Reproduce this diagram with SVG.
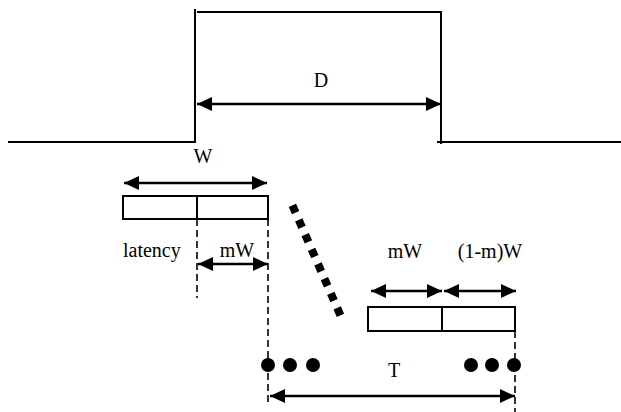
<svg xmlns="http://www.w3.org/2000/svg" width="621" height="412" viewBox="0 0 621 412">
<defs>
<marker id="ah" viewBox="0 0 15 14" refX="15" refY="7" markerWidth="15" markerHeight="14" markerUnits="userSpaceOnUse" orient="auto-start-reverse">
<path d="M0,0 L15,7 L0,14 Z" fill="#000"/>
</marker>
<style>
.ln{stroke:#000;stroke-width:2;fill:none}
.box{stroke:#000;stroke-width:2;fill:#fff}
.dash{stroke:#000;stroke-width:1.6;fill:none;stroke-dasharray:7 4}
.arr{stroke:#000;stroke-width:2.5;fill:none;marker-start:url(#ah);marker-end:url(#ah)}
.t{font-family:"Liberation Serif","Times New Roman",serif;font-size:20px;fill:#000}
</style>
</defs>
<rect width="621" height="412" fill="#fff"/>
<g id="pulse">
<polyline class="ln" points="8,142 195,142 195,9"/>
<polyline class="ln" points="197,12 441,12 441,144"/>
<line class="ln" x1="437" y1="142" x2="621" y2="142"/>
</g>
<g id="window1">
<rect class="box" x="123" y="196" width="145" height="23"/>
<line class="ln" x1="197" y1="196" x2="197" y2="219"/>
</g>
<g id="window2">
<rect class="box" x="368" y="307" width="147" height="24"/>
<line class="ln" x1="442" y1="307" x2="442" y2="331"/>
</g>
<g id="dots">
<circle cx="268" cy="365" r="7"/>
<circle cx="290" cy="365" r="7"/>
<circle cx="313" cy="365" r="7"/>
<circle cx="471" cy="365" r="7"/>
<circle cx="492" cy="365" r="7"/>
<circle cx="514" cy="365" r="7"/>
</g>
<g id="connectors">
<line class="arr" x1="197" y1="104" x2="441" y2="104"/>
<line class="arr" x1="124" y1="183" x2="267" y2="183"/>
<line class="dash" x1="197" y1="219" x2="197" y2="298"/>
<line class="dash" x1="268" y1="219" x2="268" y2="404"/>
<line class="dash" x1="515" y1="331" x2="515" y2="412"/>
<line class="arr" x1="198" y1="264" x2="268" y2="264"/>
<line class="arr" x1="371" y1="291" x2="442" y2="291"/>
<line class="arr" x1="444" y1="291" x2="516" y2="291"/>
<line class="arr" x1="270" y1="396" x2="515" y2="396"/>
<line x1="292.4" y1="205.3" x2="340.6" y2="315.7" stroke="#000" stroke-width="8" stroke-dasharray="8 8"/>
</g>
<g id="labels">
<text class="t" x="321" y="87" text-anchor="middle">D</text>
<text class="t" x="203" y="163" text-anchor="middle">W</text>
<text class="t" x="123" y="257">latency</text>
<text class="t" x="237" y="257" text-anchor="middle">mW</text>
<text class="t" x="405" y="258" text-anchor="middle">mW</text>
<text class="t" x="490" y="258" text-anchor="middle">(1-m)W</text>
<text class="t" x="394" y="377" text-anchor="middle">T</text>
</g>
</svg>
